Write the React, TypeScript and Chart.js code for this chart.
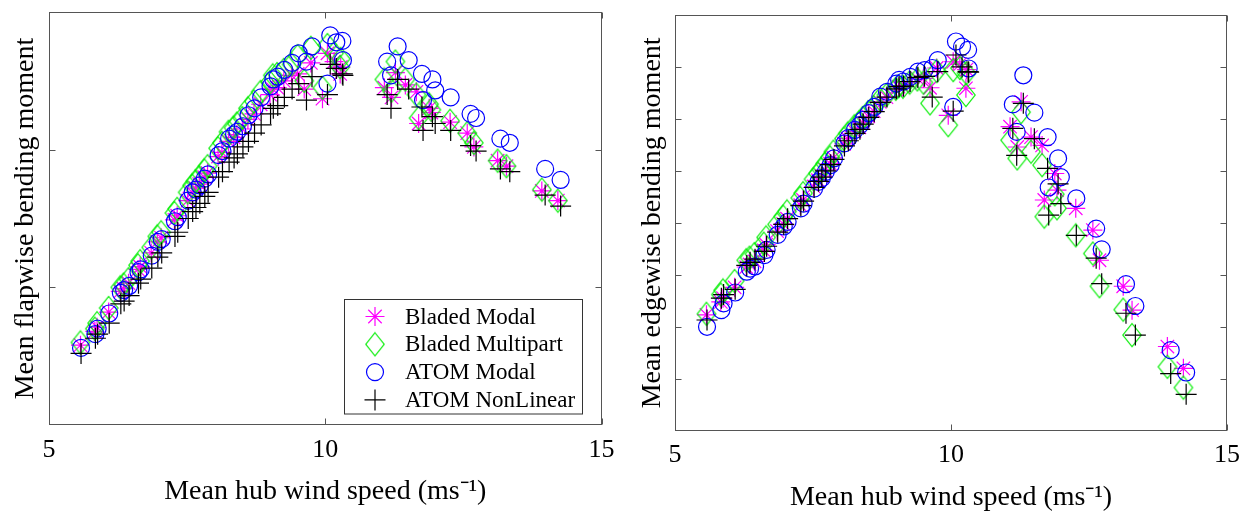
import React, { useEffect, useRef } from 'react';
import { Chart, registerables } from 'chart.js';

Chart.register(...registerables);

const FONT = "'Liberation Serif', 'Times New Roman', serif";

// ---------- data ----------
const seriesNames = ['Bladed Modal', 'Bladed Multipart', 'ATOM Modal', 'ATOM NonLinear'];
const xTickValues = [5, 10, 15];
const flapYTicks = [1, 2];
const edgeYTicks = [1, 2, 3, 4, 5, 6, 7];

const xAtom = [
  5.58, 5.84, 5.88, 6.09, 6.30, 6.36, 6.45, 6.62, 6.66, 6.86, 6.97, 7.04, 7.28, 7.33, 7.52, 7.60, 7.66, 7.73, 7.82, 7.88,
  8.07, 8.14, 8.26, 8.35, 8.41, 8.51, 8.61, 8.72, 8.84, 9.01, 9.06, 9.14, 9.26, 9.40, 9.52, 9.66, 9.76, 10.09, 10.04, 10.20,
  10.31, 10.32,
  11.12, 11.19, 11.31, 11.51, 11.75, 11.77, 11.94, 11.99, 12.27, 12.63, 12.73, 13.17, 13.34, 13.98, 14.26,
];
const xBladed = [
  5.57, 5.83, 5.87, 6.08, 6.29, 6.35, 6.44, 6.61, 6.65, 6.85, 6.96, 7.03, 7.27, 7.32, 7.51, 7.59, 7.65, 7.72, 7.81, 7.87,
  8.06, 8.13, 8.25, 8.34, 8.40, 8.50, 8.60, 8.71, 8.83, 9.00, 9.05, 9.13, 9.25, 9.39, 9.50, 9.62, 9.74, 10.04, 9.95, 10.16,
  10.28, 10.27,
  11.07, 11.20, 11.27, 11.45, 11.65, 11.69, 11.88, 11.92, 12.26, 12.57, 12.69, 13.12, 13.28, 13.92, 14.21,
];

// Mean flapwise bending moment (left panel)
const flapBladedModal = [
  0.58, 0.68, 0.71, 0.82, 0.97, 0.99, 1.03, 1.13, 1.15, 1.25, 1.33, 1.36, 1.49, 1.52, 1.63, 1.69, 1.72, 1.75, 1.80, 1.83,
  1.95, 1.98, 2.06, 2.09, 2.11, 2.15, 2.22, 2.26, 2.33, 2.40, 2.44, 2.45, 2.50, 2.54, 2.55, 2.44, 2.63, 2.70, 2.37, 2.64,
  2.60, 2.55,
  2.45, 2.38, 2.56, 2.47, 2.42, 2.19, 2.30, 2.27, 2.20, 2.12, 2.02, 1.92, 1.88, 1.70, 1.63,
];
const flapBladedMultipart = [
  0.60, 0.70, 0.74, 0.85, 1.00, 1.02, 1.06, 1.16, 1.19, 1.29, 1.37, 1.40, 1.54, 1.57, 1.69, 1.74, 1.77, 1.80, 1.85, 1.88,
  2.01, 2.05, 2.13, 2.16, 2.19, 2.23, 2.30, 2.35, 2.42, 2.49, 2.54, 2.55, 2.58, 2.62, 2.68, 2.50, 2.74, 2.76, 2.45, 2.70,
  2.66, 2.60,
  2.51, 2.43, 2.64, 2.51, 2.40, 2.23, 2.33, 2.29, 2.21, 2.12, 2.05, 1.92, 1.88, 1.71, 1.63,
];
const flapAtomModal = [
  0.56, 0.66, 0.70, 0.81, 0.96, 0.98, 1.01, 1.11, 1.13, 1.23, 1.33, 1.35, 1.48, 1.51, 1.63, 1.69, 1.71, 1.74, 1.79, 1.82,
  1.96, 1.99, 2.08, 2.11, 2.13, 2.17, 2.25, 2.30, 2.38, 2.46, 2.51, 2.53, 2.58, 2.63, 2.70, 2.64, 2.75, 2.83, 2.48, 2.78,
  2.79, 2.65,
  2.64, 2.54, 2.75, 2.65, 2.55, 2.36, 2.51, 2.43, 2.38, 2.26, 2.23, 2.08, 2.05, 1.86, 1.78,
];
const flapAtomNonLinear = [
  0.52, 0.63, 0.66, 0.74, 0.88, 0.90, 0.94, 1.03, 1.06, 1.14, 1.22, 1.25, 1.37, 1.40, 1.50, 1.55, 1.58, 1.61, 1.66, 1.69,
  1.80, 1.84, 1.91, 1.94, 1.97, 2.02, 2.06, 2.12, 2.18, 2.26, 2.30, 2.32, 2.38, 2.44, 2.48, 2.36, 2.53, 2.62, 2.40, 2.59,
  2.55, 2.54,
  2.40, 2.30, 2.51, 2.44, 2.31, 2.14, 2.24, 2.19, 2.14, 2.03, 1.99, 1.86, 1.84, 1.67, 1.59,
];

// Mean edgewise bending moment (right panel)
const edgeBladedModal = [
  2.23, 2.48, 2.55, 2.76, 3.15, 3.20, 3.26, 3.47, 3.58, 3.84, 3.98, 4.08, 4.34, 4.44, 4.70, 4.82, 4.90, 5.02, 5.14, 5.25,
  5.52, 5.62, 5.76, 5.84, 5.93, 6.05, 6.15, 6.33, 6.42, 6.56, 6.62, 6.62, 6.70, 6.78, 6.78, 6.60, 6.98, 7.10, 6.07, 7.05,
  6.95, 6.59,
  5.85, 5.46, 6.33, 5.65, 5.49, 4.44, 4.95, 4.63, 4.28, 3.86, 3.28, 2.78, 2.32, 1.62, 1.20,
];
const edgeBladedMultipart = [
  2.25, 2.62, 2.70, 2.88, 3.28, 3.33, 3.40, 3.60, 3.72, 3.97, 4.12, 4.22, 4.48, 4.57, 4.84, 4.95, 5.03, 5.14, 5.26, 5.37,
  5.62, 5.72, 5.86, 5.94, 6.02, 6.13, 6.22, 6.38, 6.46, 6.58, 6.63, 6.62, 6.70, 6.76, 6.70, 6.30, 6.92, 6.94, 5.88, 6.98,
  6.88, 6.46,
  5.59, 5.24, 6.13, 5.37, 5.11, 4.12, 4.55, 4.28, 3.76, 3.41, 2.78, 2.33, 1.84, 1.23, 0.83,
];
const edgeAtomModal = [
  2.00, 2.32, 2.45, 2.66, 3.06, 3.12, 3.16, 3.38, 3.48, 3.77, 3.93, 4.02, 4.28, 4.37, 4.66, 4.79, 4.86, 4.98, 5.11, 5.24,
  5.53, 5.63, 5.79, 5.88, 5.98, 6.11, 6.23, 6.43, 6.52, 6.68, 6.75, 6.72, 6.81, 6.91, 6.94, 6.98, 7.13, 7.49, 6.23, 7.39,
  7.33, 6.97,
  6.28, 5.75, 6.84, 6.12, 5.65, 4.68, 5.24, 4.88, 4.47, 3.89, 3.49, 2.82, 2.40, 1.55, 1.12,
];
const edgeAtomNonLinear = [
  2.13, 2.55, 2.62, 2.72, 3.18, 3.24, 3.30, 3.45, 3.55, 3.82, 3.97, 4.08, 4.33, 4.42, 4.68, 4.80, 4.88, 5.00, 5.12, 5.22,
  5.48, 5.58, 5.72, 5.80, 5.90, 6.03, 6.14, 6.32, 6.42, 6.58, 6.62, 6.63, 6.72, 6.80, 6.82, 6.42, 6.91, 7.23, 6.15, 7.00,
  6.91, 6.90,
  5.82, 5.30, 6.30, 5.62, 5.05, 4.15, 4.75, 4.37, 3.76, 3.32, 2.83, 2.26, 1.84, 1.10, 0.70,
];

// ---------- styles ----------
const MAGENTA = '#ff00ff';
const GREEN = '#00ee00';
const BLUE = '#0000ff';
const BLACK = '#000000';
const MARK_W = 1.2;

function makeDiamond(): HTMLCanvasElement {
  const c = document.createElement('canvas');
  c.width = 22;
  c.height = 26;
  const g = c.getContext('2d')!;
  g.strokeStyle = GREEN;
  g.lineWidth = MARK_W;
  g.beginPath();
  g.moveTo(11, 1.5);
  g.lineTo(20.2, 13);
  g.lineTo(11, 24.5);
  g.lineTo(1.8, 13);
  g.closePath();
  g.stroke();
  return c;
}

function drawLegendMarker(ctx: CanvasRenderingContext2D, i: number, x: number, y: number, diamond: HTMLCanvasElement) {
  ctx.save();
  ctx.lineWidth = MARK_W;
  if (i === 0) {
    ctx.strokeStyle = MAGENTA;
    const r = 9.5;
    const d = r * Math.SQRT1_2;
    ctx.beginPath();
    ctx.moveTo(x - r, y); ctx.lineTo(x + r, y);
    ctx.moveTo(x, y - r); ctx.lineTo(x, y + r);
    ctx.moveTo(x - d, y - d); ctx.lineTo(x + d, y + d);
    ctx.moveTo(x - d, y + d); ctx.lineTo(x + d, y - d);
    ctx.stroke();
  } else if (i === 1) {
    ctx.drawImage(diamond, x - diamond.width / 2, y - diamond.height / 2);
  } else if (i === 2) {
    ctx.strokeStyle = BLUE;
    ctx.beginPath();
    ctx.arc(x, y, 8.5, 0, Math.PI * 2);
    ctx.stroke();
  } else {
    ctx.strokeStyle = BLACK;
    const r = 10.5;
    ctx.beginPath();
    ctx.moveTo(x - r, y); ctx.lineTo(x + r, y);
    ctx.moveTo(x, y - r); ctx.lineTo(x, y + r);
    ctx.stroke();
  }
  ctx.restore();
}

type PanelProps = {
  left: number;
  width: number;
  padTop: number;
  padRight: number;
  xAxisHeight: number;
  yMax: number;
  yTicks: number[];
  yTitle: string;
  yTitlePad: number;
  xTickPad: number;
  xTitlePadBottom: number;
  series: number[][];
  showLegend: boolean;
};

function Panel(p: PanelProps) {
  const ref = useRef<HTMLCanvasElement>(null);

  useEffect(() => {
    const diamond = makeDiamond();
    const xsFor = [xBladed, xBladed, xAtom, xAtom];
    const styles: any[] = [
      { pointStyle: 'star', pointRadius: 9.5, color: MAGENTA },
      { pointStyle: diamond, pointRadius: 10, color: GREEN },
      { pointStyle: 'circle', pointRadius: 8.5, color: BLUE },
      { pointStyle: 'cross', pointRadius: 10.5, color: BLACK },
    ];
    const datasets = p.series.map((ys, i) => ({
      label: seriesNames[i],
      data: ys.map((y, k) => ({ x: xsFor[i][k], y })),
      showLine: false,
      pointStyle: styles[i].pointStyle,
      pointRadius: styles[i].pointRadius,
      pointHoverRadius: styles[i].pointRadius,
      pointBorderColor: styles[i].color,
      pointBackgroundColor: 'rgba(0,0,0,0)',
      pointBorderWidth: MARK_W,
      order: 4 - i,
      clip: false as any,
    }));

    const framePlugin = {
      id: 'matlabFrame',
      afterDraw(chart: any) {
        const { ctx, chartArea } = chart;
        const xs = chart.scales.x;
        const ys = chart.scales.y;
        const l = Math.round(chartArea.left) + 0.5;
        const r = Math.round(chartArea.right) - 0.5;
        const t = Math.round(chartArea.top) + 0.5;
        const b = Math.round(chartArea.bottom) - 0.5;
        ctx.save();
        ctx.strokeStyle = '#555555';
        ctx.lineWidth = 1;
        ctx.strokeRect(l, t, r - l, b - t);
        const tl = 6;
        ctx.beginPath();
        xTickValues.forEach((v) => {
          const px = Math.round(xs.getPixelForValue(v)) + 0.5;
          ctx.moveTo(px, b); ctx.lineTo(px, b - tl);
          ctx.moveTo(px, t); ctx.lineTo(px, t + tl);
        });
        p.yTicks.forEach((v) => {
          const py = Math.round(ys.getPixelForValue(v)) + 0.5;
          ctx.moveTo(l, py); ctx.lineTo(l + tl, py);
          ctx.moveTo(r, py); ctx.lineTo(r - tl, py);
        });
        ctx.stroke();

        if (p.showLegend) {
          const bx = 344.5, by = 299.5, bw = 238, bh = 114.5;
          ctx.fillStyle = '#ffffff';
          ctx.fillRect(bx, by, bw, bh);
          ctx.strokeStyle = '#333333';
          ctx.strokeRect(bx, by, bw, bh);
          ctx.font = `23px ${FONT}`;
          ctx.fillStyle = '#000000';
          ctx.textBaseline = 'middle';
          ctx.textAlign = 'left';
          seriesNames.forEach((name, i) => {
            const cy = 316.5 + i * 27.8;
            drawLegendMarker(ctx, i, 375, cy, diamond);
            ctx.fillText(name, 405, cy + 1);
          });
        }
        ctx.restore();
      },
    };

    const chart = new Chart(ref.current!, {
      type: 'scatter',
      data: { datasets },
      options: {
        responsive: false,
        animation: false,
        devicePixelRatio: 1,
        events: [],
        layout: { padding: { left: 0, right: p.padRight, top: p.padTop, bottom: 0 } },
        plugins: { legend: { display: false }, tooltip: { enabled: false } },
        scales: {
          x: {
            type: 'linear',
            min: 5,
            max: 15,
            afterBuildTicks: (s: any) => { s.ticks = xTickValues.map((v) => ({ value: v })); },
            afterFit: (s: any) => { s.height = p.xAxisHeight; },
            ticks: { font: { family: FONT, size: 26 }, color: '#000', padding: p.xTickPad, maxRotation: 0 },
            grid: { display: false, drawTicks: false },
            border: { display: false },
            title: {
              display: true,
              text: 'Mean hub wind speed (ms⁻¹)',
              font: { family: FONT, size: 28 },
              color: '#000',
              padding: { top: 0, bottom: p.xTitlePadBottom },
            },
          },
          y: {
            type: 'linear',
            min: 0,
            max: p.yMax,
            afterBuildTicks: (s: any) => { s.ticks = p.yTicks.map((v) => ({ value: v })); },
            afterFit: (s: any) => { s.width = 49; },
            ticks: { display: false },
            grid: { display: false, drawTicks: false },
            border: { display: false },
            title: {
              display: true,
              text: p.yTitle,
              font: { family: FONT, size: 28 },
              color: '#000',
              padding: { top: p.yTitlePad, bottom: 0 },
            },
          },
        },
      } as any,
      plugins: [framePlugin],
    });
    return () => chart.destroy();
  }, []);

  return (
    <canvas
      ref={ref}
      width={p.width}
      height={514}
      style={{ position: 'absolute', left: p.left, top: 0, width: p.width, height: 514 }}
    />
  );
}

export default function App() {
  return (
    <div style={{ position: 'fixed', left: 0, top: 0, width: 1253, height: 514, background: '#ffffff', overflow: 'hidden' }}>
      <Panel
        left={0}
        width={625}
        padTop={12}
        padRight={23.5}
        xAxisHeight={89}
        yMax={3}
        yTicks={flapYTicks}
        yTitle="Mean flapwise bending moment"
        yTitlePad={8.7}
        xTickPad={10}
        xTitlePadBottom={6}
        series={[flapBladedModal, flapBladedMultipart, flapAtomModal, flapAtomNonLinear]}
        showLegend={true}
      />
      <Panel
        left={626}
        width={627}
        padTop={15}
        padRight={26}
        xAxisHeight={83.3}
        yMax={8}
        yTicks={edgeYTicks}
        yTitle="Mean edgewise bending moment"
        yTitlePad={10}
        xTickPad={9}
        xTitlePadBottom={0}
        series={[edgeBladedModal, edgeBladedMultipart, edgeAtomModal, edgeAtomNonLinear]}
        showLegend={false}
      />
    </div>
  );
}
